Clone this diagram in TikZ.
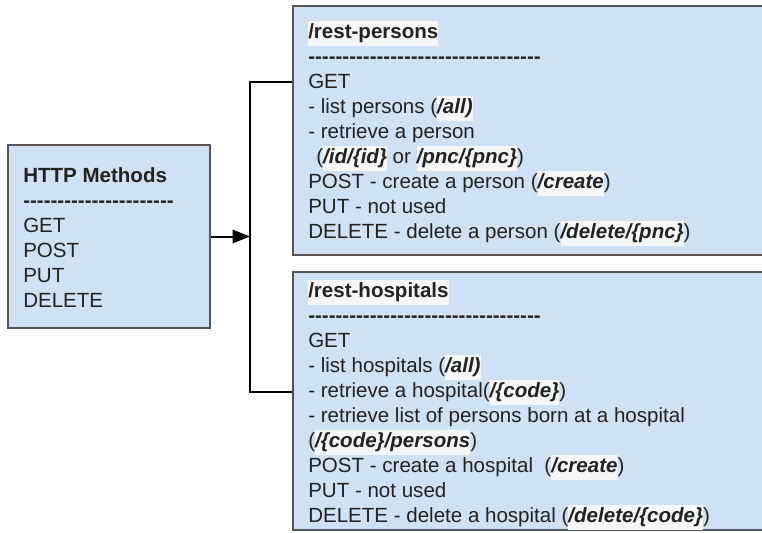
\documentclass[tikz,border=0pt]{standalone}
\usepackage{fontspec}
\setmainfont{Liberation Sans}
\usetikzlibrary{arrows.meta}

\definecolor{boxblue}{HTML}{CFE2F3}
\definecolor{boxline}{HTML}{555555}
\definecolor{inkgray}{HTML}{222222}
\definecolor{hlwhite}{HTML}{F4F6F8}

\newcommand{\hl}[1]{{\setlength{\fboxsep}{0pt}\colorbox{hlwhite}{\strut#1}}}
\newcommand{\route}[1]{\hl{\textbf{\textit{#1}}}}
\newcommand{\dashrow}[1]{\foreach \k in {1,...,#1}{-\kern0pt}}

\begin{document}
\begin{tikzpicture}[
x=0.75pt, y=-0.75pt,
methodbox/.style={
    draw=boxline,
    line width=1.5pt,
    fill=boxblue,
    inner sep=0pt
},
boxtext/.style={
    anchor=north west,
    inner sep=0pt,
    align=left,
    text=inkgray,
    font=\fontsize{15.4pt}{18.75pt}\selectfont
},
link/.style={line width=1.5pt, black}
]
\useasboundingbox (0,0) rectangle (762,532);

%---------------- HTTP methods ----------------
\node[methodbox, minimum width=151.5pt, minimum height=137.25pt] (methods) at (109,236.5) {};
\node[boxtext] (methodstext) at (23,164.5) {\strut\textbf{HTTP Methods}\\
\textbf{\dashrow{22}}\\
GET\\
POST\\
PUT\\
DELETE};

%---------------- /rest-persons ----------------
\node[methodbox, minimum width=380.25pt, minimum height=186.75pt] (persons) at (546.5,130.5) {};
\node[boxtext] (personstext) at (308,20.5) {\hl{\textbf{/rest-persons}}\\
\textbf{\dashrow{34}}\\
GET\\
- list persons (\route{/all)}\\
- retrieve a person\\
\hspace*{6pt}(\route{/id/\{id\}} or \route{/pnc/\{pnc\}})\\
POST - create a person (\route{/create})\\
PUT - not used\\
DELETE - delete a person (\route{/delete/\{pnc\}})};

%---------------- /rest-hospitals ----------------
\node[methodbox, minimum width=380.25pt, minimum height=193.5pt] (hospitals) at (546.5,401) {};
\node[boxtext] (hospitalstext) at (308,279.5) {\hl{\textbf{/rest-hospitals}}\\
\textbf{\dashrow{34}}\\
GET\\
- list hospitals (\route{/all)}\\
- retrieve a hospital(\route{/\{code\}})\\
- retrieve list of persons born at a hospital\\
(\route{/\{code\}/persons})\\
POST - create a hospital\ \ (\route{/create})\\
PUT - not used\\
DELETE - delete a hospital (\route{/delete/\{code\}})};

%---------------- connectors ----------------
\coordinate (branch) at (250,236.5);
\coordinate (uptee) at (250,82);
\coordinate (downtee) at (250,392);

\draw[link] (uptee -| persons.west) -- (uptee) -- (downtee) -- (downtee -| hospitals.west);
\draw[link,-{Triangle[length=13pt,width=10pt]}] (methods.east) -- (branch);

\end{tikzpicture}
\end{document}
